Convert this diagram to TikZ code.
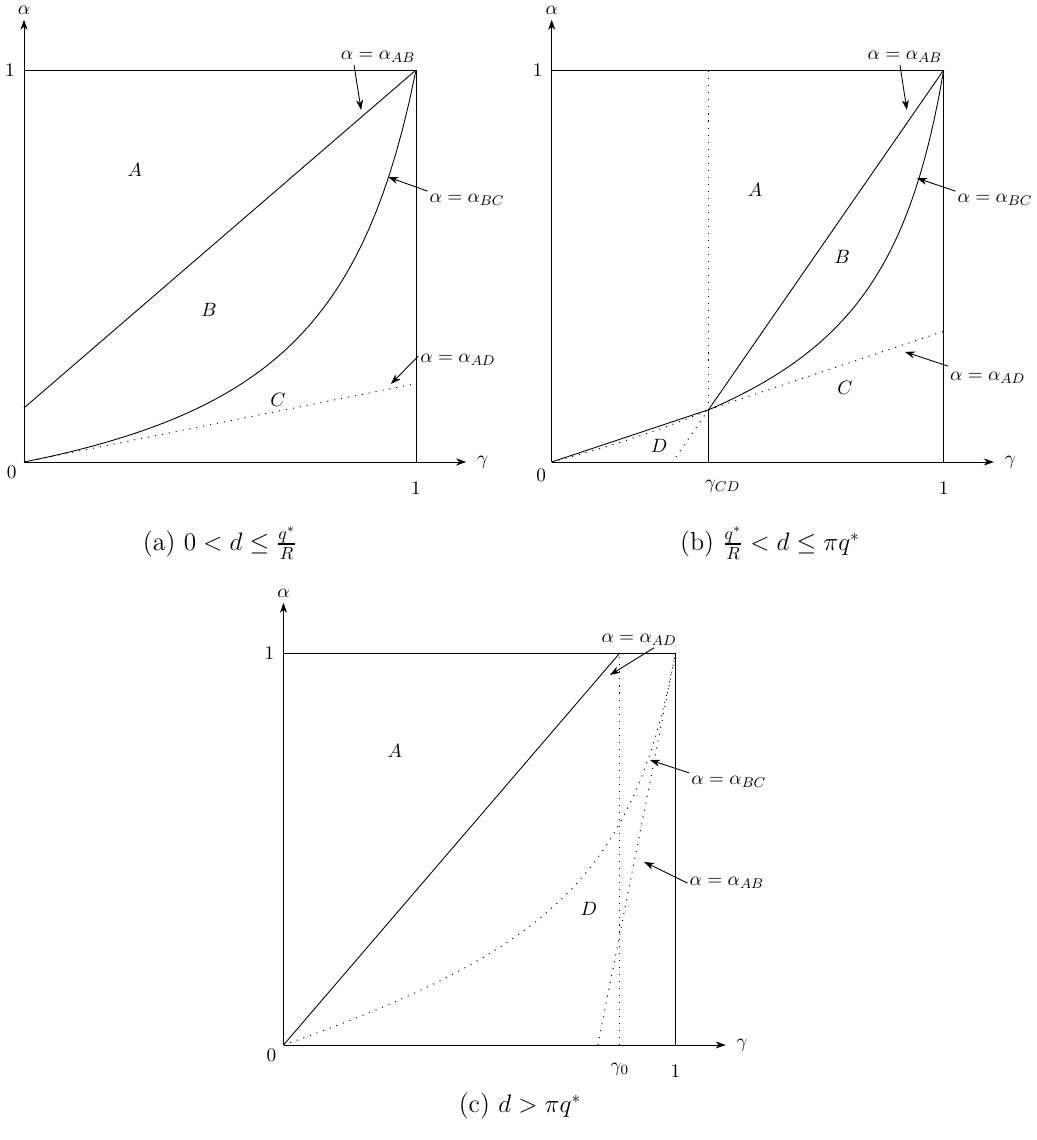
\documentclass[tikz,border=0pt]{standalone}
\usepackage{amsmath,amssymb}
\usetikzlibrary{arrows.meta,positioning,calc}

\begin{document}
\begin{tikzpicture}[
  axis/.style={-{Stealth[length=2mm,width=1.4mm,inset=0.6mm]}, line width=0.5pt},
  curve/.style={line width=0.5pt},
  dotcurve/.style={line width=0.55pt, dash pattern=on 0.6pt off 3.4pt},
  pointer/.style={-{Stealth[length=2mm,width=1.4mm,inset=0.6mm]}, line width=0.5pt},
  lbl/.style={font=\fontsize{11}{13}\selectfont, inner sep=1pt},
  region/.style={font=\fontsize{11}{13}\selectfont},
  caption/.style={font=\fontsize{14.8}{17}\selectfont}
]
\useasboundingbox (0,0) rectangle (20.72,22.8);

% (a) small d
\begin{scope}[shift={(0.48,13.56)}, x=7.84cm, y=7.84cm]
\coordinate (aO) at (0,0);
\coordinate (aX) at (1.128,0);
\coordinate (aY) at (0,1.128);
\draw[axis] (aO) -- (aX) node[lbl, right=5pt] (aGam) {$\gamma$};
\draw[axis] (aO) -- (aY) node[lbl, above=2pt] (aAlp) {$\alpha$};
\draw[curve] (0,1) -- (1,1) -- (1,0);
\node[lbl, below left=1pt and 3pt] (aZero) at (aO) {$0$};
\node[lbl, left=4pt] (aOneY) at (0,1) {$1$};
\node[lbl, below=10pt] (aOneX) at (1,0) {$1$};

\draw[curve] (0,0.138) -- (1,1);
\draw[curve] plot[domain=0:1, samples=60] (\x, {0.2*\x/(1-0.8*\x)});
\draw[dotcurve] (0,0) -- (1,0.2);

\node[region] (aA) at (0.283,0.745) {$A$};
\node[region] (aB) at (0.472,0.388) {$B$};
\node[region] (aC) at (0.648,0.158) {$C$};

\node[lbl] (aLabAB) at (0.903,1.033) {$\alpha=\alpha_{AB}$};
\node[lbl] (aLabBC) at (1.130,0.668) {$\alpha=\alpha_{BC}$};
\node[lbl] (aLabAD) at (1.107,0.260) {$\alpha=\alpha_{AD}$};
\coordinate (aTipAB) at (0.860,0.898);
\coordinate (aTipBC) at (0.929,0.727);
\coordinate (aTipAD) at (0.936,0.199);
\draw[pointer] ([xshift=-0.48cm]aLabAB.south) -- (aTipAB);
\draw[pointer] ([yshift=0.18cm]aLabBC.west) -- (aTipBC);
\draw[pointer] ([yshift=0.08cm]aLabAD.west) -- (aTipAD);
\end{scope}

% (b) medium d
\begin{scope}[shift={(11.034,13.56)}, x=7.84cm, y=7.84cm]
\coordinate (bO) at (0,0);
\coordinate (bX) at (1.128,0);
\coordinate (bY) at (0,1.128);
\coordinate (bP) at (0.4,0.1333);
\draw[axis] (bO) -- (bX) node[lbl, right=5pt] (bGam) {$\gamma$};
\draw[axis] (bO) -- (bY) node[lbl, above=2pt] (bAlp) {$\alpha$};
\draw[curve] (0,1) -- (1,1) -- (1,0);
\node[lbl, below left=3pt and 2pt] (bZero) at (bO) {$0$};
\node[lbl, left=4pt] (bOneY) at (0,1) {$1$};
\node[lbl, below=10pt] (bOneX) at (1,0) {$1$};
\node[lbl, below=9pt, xshift=0.28cm] (bGcd) at (0.4,0) {$\gamma_{CD}$};

\draw[curve] (0.4,0) -- (bP);
\draw[dotcurve] (bP) -- (0.4,1);
\draw[curve] (bO) -- (bP);
\draw[dotcurve] (bP) -- (1,0.3333);
\draw[curve] (bP) -- (1,1);
\draw[dotcurve] (bP) -- (0.308,0);
\draw[curve] plot[domain=0.4:1, samples=50] (\x, {0.1296*\x/(1-0.85*\x)+0.136*\x});
\draw[dotcurve] plot[domain=0:0.4, samples=30] (\x, {0.1296*\x/(1-0.85*\x)+0.136*\x});

\node[region] (bA) at (0.519,0.694) {$A$};
\node[region] (bB) at (0.741,0.523) {$B$};
\node[region] (bC) at (0.748,0.189) {$C$};
\node[region] (bD) at (0.274,0.040) {$D$};

\node[lbl] (bLabAB) at (0.901,1.033) {$\alpha=\alpha_{AB}$};
\node[lbl] (bLabBC) at (1.131,0.668) {$\alpha=\alpha_{BC}$};
\node[lbl] (bLabAD) at (1.112,0.214) {$\alpha=\alpha_{AD}$};
\coordinate (bTipAB) at (0.906,0.898);
\coordinate (bTipBC) at (0.932,0.724);
\coordinate (bTipAD) at (0.901,0.281);
\draw[pointer] ([xshift=-0.1cm]bLabAB.south) -- (bTipAB);
\draw[pointer] ([yshift=0.18cm]bLabBC.west) -- (bTipBC);
\draw[pointer] ([yshift=0.24cm]bLabAD.west) -- (bTipAD);
\end{scope}

% (c) large d
\begin{scope}[shift={(5.67,1.9)}, x=7.84cm, y=7.84cm]
\coordinate (cO) at (0,0);
\coordinate (cX) at (1.128,0);
\coordinate (cY) at (0,1.128);
\draw[axis] (cO) -- (cX) node[lbl, right=5pt] (cGam) {$\gamma$};
\draw[axis] (cO) -- (cY) node[lbl, above=2pt] (cAlp) {$\alpha$};
\draw[curve] (0,1) -- (1,1) -- (1,0);
\node[lbl, below left=1pt and 3pt] (cZero) at (cO) {$0$};
\node[lbl, left=4pt] (cOneY) at (0,1) {$1$};
\node[lbl, below=10pt] (cOneX) at (1,0) {$1$};
\node[lbl, below=9pt] (cG0) at (0.858,0) {$\gamma_0$};

\draw[curve] (cO) -- (0.858,1);
\draw[dotcurve] (0.858,0) -- (0.858,1);
\draw[dotcurve] (0.802,0) -- (1,1);
\draw[dotcurve] plot[domain=0:1, samples=60] (\x, {0.1145*\x/(1-0.85*\x)+0.2367*\x});

\node[region] (cA) at (0.284,0.750) {$A$};
\node[region] (cD) at (0.779,0.347) {$D$};

\node[lbl] (cLabAD) at (0.907,1.033) {$\alpha=\alpha_{AD}$};
\node[lbl] (cLabBC) at (1.136,0.671) {$\alpha=\alpha_{BC}$};
\node[lbl] (cLabAB) at (1.131,0.413) {$\alpha=\alpha_{AB}$};
\coordinate (cTipAD) at (0.833,0.944);
\coordinate (cTipBC) at (0.935,0.727);
\coordinate (cTipAB) at (0.920,0.467);
\draw[pointer] ([xshift=0.3cm]cLabAD.south) -- (cTipAD);
\draw[pointer] ([yshift=0.18cm]cLabBC.west) -- (cTipBC);
\draw[pointer] (cLabAB.west) -- (cTipAB);
\end{scope}

% Captions
\node[caption] (capA) at (4.4,11.94) {(a) $0<d\leq\frac{q^*}{R}$};
\node[caption] (capB) at (15.4,11.94) {(b) $\frac{q^*}{R}<d\leq\pi q^*$};
\node[caption] (capC) at (10.4,0.68) {(c) $d>\pi q^*$};

\end{tikzpicture}
\end{document}
